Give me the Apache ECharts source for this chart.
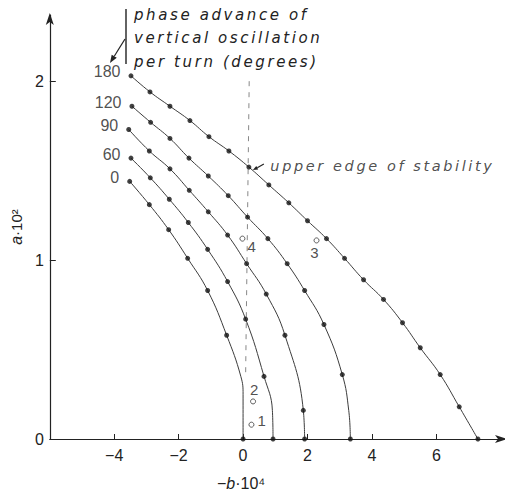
<!DOCTYPE html>
<html><head><meta charset="utf-8">
<script src="https://cdn.jsdelivr.net/npm/echarts@6/dist/echarts.min.js"></script>
<style>
html,body{margin:0;padding:0;background:#fff;}
#c{width:505px;height:494px;}
#c text[style*="oblique"]{letter-spacing:2.6px;}
</style></head><body><div id="c"></div>
<script>
// ---- data ----
const xTicks = [-4, -2, 0, 2, 4, 6];
const yTicks = [0, 1, 2];
const curveNames = ['0', '60', '90', '120', '180'];

const dots0x = [-3.52, -2.91, -2.31, -1.72, -1.10, -0.51, 0.00];
const dots0y = [1.44, 1.31, 1.17, 1.01, 0.83, 0.58, 0.00];
const path0x = [-0.07, 0.00];          // undotted points where the drawn line runs
const path0y = [0.35, 0.25];

const dots60x = [-3.48, -2.88, -2.29, -1.70, -1.10, -0.48, 0.08, 0.65, 0.93];
const dots60y = [1.57, 1.46, 1.34, 1.21, 1.06, 0.88, 0.67, 0.35, 0.00];
const path60x = [0.91];
const path60y = [0.16];

const dots90x = [-3.55, -2.91, -2.27, -1.67, -1.08, -0.48, 0.11, 0.72, 1.30, 1.87, 1.91];
const dots90y = [1.73, 1.61, 1.51, 1.39, 1.27, 1.14, 0.98, 0.81, 0.58, 0.16, 0.00];
const path90x = [];
const path90y = [];

const dots120x = [-3.45, -2.87, -2.27, -1.68, -1.08, -0.46, 0.14, 0.77, 1.37, 1.91, 2.51, 3.08, 3.33];
const dots120y = [1.86, 1.77, 1.68, 1.57, 1.47, 1.36, 1.24, 1.12, 0.98, 0.83, 0.64, 0.36, 0.00];
const path120x = [3.28];
const path120y = [0.16];

const dots180x = [-3.48, -2.89, -2.27, -1.65, -1.06, -0.44, 0.18, 0.80, 1.42, 2.00, 2.59, 3.15, 3.74, 4.36, 4.95, 5.50, 6.12, 6.71, 7.29];
const dots180y = [2.03, 1.94, 1.86, 1.78, 1.69, 1.61, 1.52, 1.42, 1.32, 1.22, 1.12, 1.01, 0.89, 0.78, 0.65, 0.51, 0.36, 0.18, 0.00];

const openX = [0.26, 0.31, 2.28, -0.02];
const openY = [0.08, 0.21, 1.11, 1.12];
const openLabels = ['1', '2', '3', '4'];

const dashX = [0.19, 0.08];
const dashY = [2.00, 0.37];

const edgeIndex = 6; // dot on the 180 curve marked "upper edge of stability"
const edgeText = 'upper edge of stability';
const phaseText = ['phase advance of', 'vertical oscillation', 'per turn (degrees)'];
// ---------------------------------------

const curves = [
  {dx: dots0x, dy: dots0y, px: path0x, py: path0y},
  {dx: dots60x, dy: dots60y, px: path60x, py: path60y},
  {dx: dots90x, dy: dots90y, px: path90x, py: path90y},
  {dx: dots120x, dy: dots120y, px: path120x, py: path120y},
  {dx: dots180x, dy: dots180y, px: [], py: []}
];

const NUM_FONT = 'Liberation Sans';
const ITAL_FONT = 'DejaVu Sans';

const series = [];
curves.forEach((c, i) => {
  const pts = c.dx.map((x, k) => [x, c.dy[k]]).concat(c.px.map((x, k) => [x, c.py[k]]));
  pts.sort((a, b) => b[1] - a[1]);
  series.push({
    type: 'line', data: pts, smooth: 0.45, showSymbol: false, silent: true, z: 2,
    lineStyle: {color: '#3c3c3c', width: 1}
  });
  const items = c.dx.map((x, k) => {
    const it = {value: [x, c.dy[k]]};
    if (k === 0) {
      it.label = {show: true, formatter: curveNames[i], position: 'left', distance: 8,
        offset: [0, -4], color: '#222', fontSize: 16, fontFamily: NUM_FONT};
    }
    if (i === 4 && k === edgeIndex) {
      it.label = {show: true, formatter: edgeText, position: 'right', distance: 19,
        offset: [0, -1], color: '#222', fontSize: 14.5, fontFamily: ITAL_FONT, fontStyle: 'oblique'};
    }
    return it;
  });
  series.push({
    type: 'scatter', data: items, symbolSize: 5, z: 3, silent: true,
    itemStyle: {color: '#111'}
  });
});

series.push({
  type: 'line', data: dashX.map((x, k) => [x, dashY[k]]), showSymbol: false, silent: true, z: 1,
  lineStyle: {color: '#888', width: 1, type: [5, 6]}
});

const openPos = {
  '1': {position: 'right', distance: 3, offset: [0, -4]},
  '2': {position: 'top', distance: 1, offset: [1, 0]},
  '3': {position: 'bottom', distance: 2, offset: [-2, 0]},
  '4': {position: 'right', distance: 2, offset: [0, 8]}
};
series.push({
  type: 'scatter', symbol: 'circle', symbolSize: 5, z: 4, silent: true,
  itemStyle: {color: '#fff', borderColor: '#333', borderWidth: 1},
  data: openX.map((x, k) => ({
    value: [x, openY[k]],
    label: Object.assign({show: true, formatter: openLabels[k], color: '#222',
      fontSize: 15, fontFamily: NUM_FONT}, openPos[openLabels[k]])
  }))
});

const chart = echarts.init(document.getElementById('c'), null, {renderer: 'svg'});
const fmt = v => (v < 0 ? '\u2212' + (-v) : String(v));
chart.setOption({
  animation: false,
  backgroundColor: '#fff',
  grid: {left: 49, right: 1, top: 15, bottom: 55, containLabel: false},
  xAxis: {
    type: 'value', min: -6, max: 8.1, interval: 2,
    splitLine: {show: false},
    axisLine: {onZero: false, symbol: ['none', 'arrow'], symbolSize: [6, 12], symbolOffset: [0, 3],
      lineStyle: {color: '#222', width: 1.2}},
    axisTick: {inside: true, length: 5, customValues: xTicks, lineStyle: {color: '#222'}},
    axisLabel: {customValues: xTicks, formatter: fmt, margin: 8, color: '#222', fontSize: 16, fontFamily: NUM_FONT}
  },
  yAxis: {
    type: 'value', min: 0, max: 2.37, interval: 1,
    splitLine: {show: false},
    axisLine: {onZero: false, symbol: ['none', 'arrow'], symbolSize: [6, 12], symbolOffset: [0, 2],
      lineStyle: {color: '#222', width: 1.2}},
    axisTick: {inside: true, length: 6, customValues: yTicks, lineStyle: {color: '#222'}},
    axisLabel: {customValues: yTicks, formatter: fmt, margin: 6, color: '#222', fontSize: 16, fontFamily: NUM_FONT},
    name: '{i|a}\u00b710\u00b2', nameLocation: 'middle', nameGap: 23, nameRotate: 90,
    nameTextStyle: {color: '#222', fontSize: 15, fontFamily: NUM_FONT,
      rich: {i: {fontStyle: 'italic', fontSize: 16, fontFamily: NUM_FONT, color: '#222'}}}
  },
  series: series
});

// annotations positioned from the axes
const P = (x, y) => chart.convertToPixel({gridIndex: 0}, [x, y]);
const origin = P(0, 0);
const edge = P(dots180x[edgeIndex], dots180y[edgeIndex]);

function arrow(x1, y1, x2, y2, len, hw) {
  const dx = x2 - x1, dy = y2 - y1, L = Math.hypot(dx, dy);
  const ux = dx / L, uy = dy / L;
  const bx = x2 - ux * len, by = y2 - uy * len;
  return [
    {type: 'line', shape: {x1: x1, y1: y1, x2: bx, y2: by}, style: {stroke: '#222', lineWidth: 1.2}, silent: true},
    {type: 'polygon', shape: {points: [[x2, y2], [bx - uy * hw, by + ux * hw], [bx + uy * hw, by - ux * hw]]},
      style: {fill: '#222'}, silent: true}
  ];
}

const graphics = [
  {type: 'text', left: 134, top: 3, silent: true,
    style: {text: phaseText.join('\n'), fontStyle: 'oblique',
      fontSize: 15, fontFamily: ITAL_FONT, lineHeight: 23.5, fill: '#222'}},
  {type: 'line', shape: {x1: 126, y1: 9, x2: 126, y2: 64}, style: {stroke: '#222', lineWidth: 1.4}, silent: true},
  {type: 'text', silent: true, x: origin[0] - 2, y: origin[1] + 44,
    style: {text: '\u2212{i|b}\u00b710\u2074', align: 'center', verticalAlign: 'middle',
      fontSize: 16, fontFamily: NUM_FONT, fill: '#222',
      rich: {i: {fontStyle: 'italic', fontSize: 16, fontFamily: NUM_FONT, fill: '#222'}}}}
].concat(arrow(125, 39, 110, 63, 8, 3))
 .concat(arrow(edge[0] + 15, edge[1] - 3, edge[0] + 4, edge[1] + 3, 5, 2));

chart.setOption({graphic: graphics});
</script></body></html>
